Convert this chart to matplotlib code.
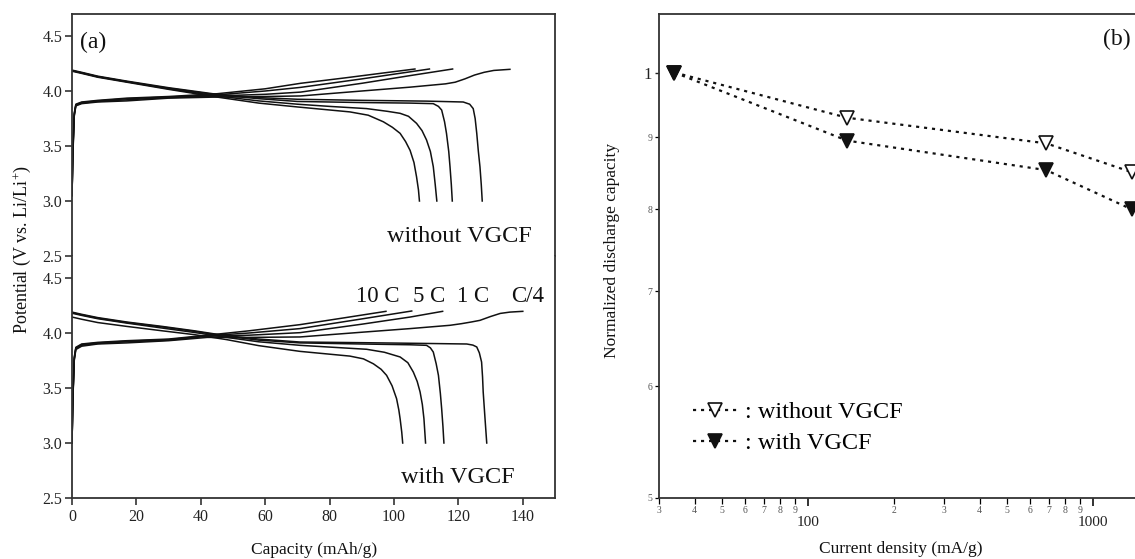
import matplotlib
matplotlib.use("Agg")
import matplotlib.pyplot as plt
from matplotlib.ticker import FixedLocator, FixedFormatter

plt.rcParams["font.family"] = ["Liberation Serif", "DejaVu Serif"]
plt.rcParams["mathtext.fontset"] = "custom"
plt.rcParams["mathtext.rm"] = "Liberation Serif"
plt.rcParams["mathtext.it"] = "Liberation Serif:italic"

# ---------------------------------------------------------------------------
# (a) charge / discharge profiles, (capacity mAh/g, potential V)
# ---------------------------------------------------------------------------
rate_labels = ["10 C", "5 C", "1 C", "C/4"]

# without VGCF -- charge
wo_chg_10C = [(0, 3.05), (0.3, 3.5), (0.7, 3.8), (1.2, 3.88), (3, 3.9), (8, 3.915),
              (17, 3.935), (30, 3.95), (45, 3.975), (60, 4.02), (71, 4.07),
              (85, 4.12), (97, 4.165), (106.5, 4.2)]
wo_chg_5C = [(0, 3.05), (0.3, 3.48), (0.7, 3.79), (1.2, 3.875), (3, 3.895), (8, 3.91),
             (17, 3.93), (30, 3.945), (45, 3.965), (60, 4.0), (71, 4.033),
             (90, 4.11), (111, 4.2)]
wo_chg_1C = [(0, 3.05), (0.3, 3.46), (0.7, 3.78), (1.2, 3.87), (3, 3.89), (8, 3.905),
             (17, 3.92), (30, 3.94), (45, 3.955), (60, 3.97), (71, 3.99),
             (90, 4.07), (105, 4.14), (118.2, 4.2)]
wo_chg_C4 = [(0, 3.05), (0.3, 3.44), (0.7, 3.77), (1.2, 3.865), (3, 3.885), (8, 3.9),
             (17, 3.91), (30, 3.935), (45, 3.945), (60, 3.95), (71, 3.955),
             (90, 4.0), (105, 4.035), (116, 4.065), (119, 4.08), (122, 4.11),
             (125, 4.145), (128, 4.17), (131, 4.187), (136, 4.197)]

# without VGCF -- discharge
wo_dis_10C = [(0, 4.18), (3, 4.16), (8, 4.125), (17, 4.08), (30, 4.015), (45, 3.945),
              (58, 3.89), (70, 3.855), (86.3, 3.81), (92, 3.78), (96.7, 3.72),
              (99.5, 3.67), (101.9, 3.615), (103.6, 3.54), (105, 3.46), (106.2, 3.35),
              (107, 3.22), (107.6, 3.1), (107.9, 3.0)]
wo_dis_5C = [(0, 4.185), (3, 4.165), (8, 4.13), (17, 4.085), (30, 4.02), (45, 3.955),
             (58, 3.91), (70, 3.88), (80, 3.86), (91.5, 3.84), (98, 3.815),
             (101.9, 3.797), (104.5, 3.77), (107, 3.706), (108.7, 3.64), (110.1, 3.555),
             (111.3, 3.45), (112.2, 3.312), (112.8, 3.15), (113.3, 3.0)]
wo_dis_1C = [(0, 4.185), (3, 4.165), (8, 4.13), (17, 4.085), (30, 4.025), (45, 3.965),
             (58, 3.93), (70, 3.905), (90, 3.895), (105, 3.89), (112.2, 3.885),
             (113.8, 3.86), (114.8, 3.827), (115.7, 3.72), (116.3, 3.615), (117, 3.45),
             (117.4, 3.31), (117.8, 3.15), (118.1, 3.0)]
wo_dis_C4 = [(0, 4.19), (3, 4.17), (8, 4.135), (17, 4.09), (30, 4.03), (45, 3.97),
             (58, 3.94), (70, 3.925), (90, 3.915), (110, 3.908), (121.5, 3.9),
             (123.5, 3.88), (124.6, 3.84), (125.2, 3.75), (125.7, 3.615), (126.2, 3.45),
             (126.7, 3.31), (127.1, 3.15), (127.4, 3.0)]

# with VGCF -- charge
w_chg_10C = [(0, 3.0), (0.3, 3.45), (0.7, 3.78), (1.2, 3.87), (3, 3.9), (8, 3.915),
             (17, 3.93), (30, 3.945), (42, 3.98), (55, 4.02), (70.8, 4.076),
             (85, 4.14), (97.5, 4.197)]
w_chg_5C = [(0, 3.0), (0.3, 3.44), (0.7, 3.77), (1.2, 3.865), (3, 3.895), (8, 3.91),
            (17, 3.925), (30, 3.94), (42, 3.975), (55, 4.0), (70.8, 4.04),
            (90, 4.128), (105.5, 4.2)]
w_chg_1C = [(0, 3.0), (0.3, 3.43), (0.7, 3.76), (1.2, 3.86), (3, 3.888), (8, 3.905),
            (17, 3.92), (30, 3.935), (42, 3.97), (55, 3.98), (70.8, 4.003),
            (90, 4.08), (105, 4.145), (115.1, 4.197)]
w_chg_C4 = [(0, 3.0), (0.3, 3.42), (0.7, 3.75), (1.2, 3.85), (3, 3.88), (8, 3.9),
            (17, 3.91), (30, 3.93), (42, 3.96), (55, 3.96), (70.8, 3.964),
            (90, 4.007), (105, 4.04), (117.4, 4.07), (121, 4.085), (124, 4.1),
            (126.7, 4.115), (130, 4.15), (133, 4.178), (136, 4.19), (140, 4.197)]

# with VGCF -- discharge
w_dis_10C = [(0, 4.145), (3, 4.125), (8, 4.095), (17, 4.06), (28, 4.02), (38, 3.985),
             (48, 3.94), (58, 3.885), (70.8, 3.833), (86.3, 3.79), (90.5, 3.765),
             (93.6, 3.72), (96, 3.67), (97.7, 3.615), (99.4, 3.52), (100.8, 3.403),
             (101.5, 3.3), (101.9, 3.22), (102.4, 3.1), (102.7, 3.0)]
w_dis_5C = [(0, 4.18), (3, 4.16), (8, 4.13), (17, 4.09), (28, 4.045), (38, 4.005),
            (48, 3.96), (58, 3.92), (70.8, 3.888), (80, 3.872), (91.5, 3.852),
            (97, 3.825), (101.9, 3.782), (104.3, 3.73), (106, 3.645), (107.2, 3.56),
            (108.1, 3.464), (108.8, 3.35), (109.3, 3.22), (109.8, 3.0)]
w_dis_1C = [(0, 4.185), (3, 4.165), (8, 4.135), (17, 4.095), (28, 4.055), (38, 4.015),
            (48, 3.97), (58, 3.935), (70.8, 3.91), (90, 3.9), (105, 3.893),
            (110.1, 3.888), (111.3, 3.865), (112.2, 3.827), (113.1, 3.72),
            (113.8, 3.615), (114.4, 3.45), (114.8, 3.312), (115.2, 3.15), (115.5, 3.0)]
w_dis_C4 = [(0, 4.19), (3, 4.17), (8, 4.14), (17, 4.1), (28, 4.06), (38, 4.02),
            (48, 3.975), (58, 3.945), (70.8, 3.918), (90, 3.912), (110, 3.905),
            (122.6, 3.9), (124.5, 3.89), (125.7, 3.873), (126.5, 3.82), (127.2, 3.736),
            (127.5, 3.6), (127.7, 3.464), (128.2, 3.25), (128.8, 3.0)]

# ---------------------------------------------------------------------------
# (b) rate capability
# ---------------------------------------------------------------------------
current_density = [34, 137, 685, 1370]          # mA/g  (C/4, 1C, 5C, 10C)
norm_without = [1.0, 0.929, 0.891, 0.850]
norm_with = [1.0, 0.895, 0.853, 0.800]

x_minor_ticks = [30, 40, 50, 60, 70, 80, 90, 200, 300, 400, 500, 600, 700, 800, 900]
x_minor_labels = ["3", "4", "5", "6", "7", "8", "9", "2", "3", "4", "5", "6", "7", "8", "9"]
y_minor_ticks = [0.5, 0.6, 0.7, 0.8, 0.9]
y_minor_labels = ["5", "6", "7", "8", "9"]

# ---------------------------------------------------------------------------
W, H = 1135, 559
fig = plt.figure(figsize=(W / 100, H / 100), dpi=100)

def fx(px):
    return px / W

def fy(py):
    return 1 - py / H

ink = "#111111"
spine_col = "#333333"

left, right_px = 72, 555
ax_top = fig.add_axes([fx(left), fy(256), fx(right_px - left), fy(14) - fy(256)])
ax_bot = fig.add_axes([fx(left), fy(498), fx(right_px - left), fy(256) - fy(498)])

top_curves = [wo_chg_10C, wo_chg_5C, wo_chg_1C, wo_chg_C4,
              wo_dis_10C, wo_dis_5C, wo_dis_1C, wo_dis_C4]
bot_curves = [w_chg_10C, w_chg_5C, w_chg_1C, w_chg_C4,
              w_dis_10C, w_dis_5C, w_dis_1C, w_dis_C4]

for ax, curves in ((ax_top, top_curves), (ax_bot, bot_curves)):
    for pts in curves:
        xs, ys = zip(*pts)
        ax.plot(xs, ys, color=ink, lw=1.1, solid_joinstyle="round")
    ax.set_xlim(0, 150)
    ax.set_ylim(2.5, 4.7)
    ax.set_yticks([2.5, 3.0, 3.5, 4.0, 4.5])
    ax.set_yticklabels(["2.5", "3.0", "3.5", "4.0", "4.5"])
    ax.tick_params(axis="y", direction="out", length=5, width=1.1,
                   labelsize=11.5, colors="#222222", pad=2)
    for s in ax.spines.values():
        s.set_color(spine_col)
        s.set_linewidth(1.3)

ax_top.spines["bottom"].set_visible(False)
ax_top.set_xticks([])
ax_bot.spines["top"].set_visible(False)
ax_bot.set_xticks(range(0, 141, 20))
ax_bot.tick_params(axis="x", direction="out", length=5, width=1.1,
                   labelsize=11.5, colors="#222222", pad=3)

ax_top.text(120.2, 2.63, "without VGCF", ha="center", va="baseline",
            fontsize=17.5, color=ink)
ax_bot.text(119.9, 2.636, "with VGCF", ha="center", va="baseline",
            fontsize=17.5, color=ink)
for lbl, xc in zip(rate_labels, [95.0, 110.9, 124.4, 141.6]):
    ax_bot.text(xc, 4.279, lbl, ha="center", va="baseline", fontsize=16.5, color=ink)

fig.text(fx(80), fy(42), "(a)", ha="left", va="center", fontsize=17, color=ink)
fig.text(fx(22), fy(250), "Potential (V vs. Li/Li$^{+}$)", rotation=90,
         ha="center", va="center", fontsize=13, color=ink)
fig.text(fx(314), fy(550), "Capacity (mAh/g)", ha="center", va="center",
         fontsize=12.5, color=ink)

# ---------------------------------------------------------------------------
axr = fig.add_axes([fx(659), fy(498), 0.45, fy(14) - fy(498)])
axr.set_xscale("log")
axr.set_yscale("log")

dots = (0, (1.4, 2.2))
axr.plot(current_density, norm_without, linestyle=dots, lw=1.6, color=ink,
         marker="v", markersize=9.5, markerfacecolor="white",
         markeredgecolor=ink, markeredgewidth=1.2, label=": without VGCF")
axr.plot(current_density, norm_with, linestyle=dots, lw=1.6, color=ink,
         marker="v", markersize=9.5, markerfacecolor=ink,
         markeredgecolor=ink, markeredgewidth=1.2, label=": with VGCF")

axr.set_xlim(30, 1858)
axr.set_ylim(0.5, 1.1)

axr.xaxis.set_major_locator(FixedLocator([100, 1000]))
axr.xaxis.set_major_formatter(FixedFormatter(["100", "1000"]))
axr.xaxis.set_minor_locator(FixedLocator(x_minor_ticks))
axr.xaxis.set_minor_formatter(FixedFormatter(x_minor_labels))
axr.tick_params(axis="x", which="major", direction="out", length=6, width=1.3,
                labelsize=11, colors="#222222", pad=7)
axr.tick_params(axis="x", which="minor", direction="out", length=4, width=0.9,
                labelsize=7, labelcolor="#555555", pad=2)

axr.yaxis.set_major_locator(FixedLocator([1.0]))
axr.yaxis.set_major_formatter(FixedFormatter(["1"]))
axr.yaxis.set_minor_locator(FixedLocator(y_minor_ticks))
axr.yaxis.set_minor_formatter(FixedFormatter(y_minor_labels))
axr.tick_params(axis="y", which="major", direction="out", length=3, width=1.0,
                labelsize=12, colors="#222222", pad=2)
axr.tick_params(axis="y", which="minor", direction="out", length=3, width=0.9,
                labelsize=7, labelcolor="#555555", pad=2)

for s in axr.spines.values():
    s.set_color(spine_col)
    s.set_linewidth(1.3)
axr.spines["right"].set_visible(False)

leg = axr.legend(loc="upper left", bbox_to_anchor=(fx(693), fy(401)),
                 bbox_transform=fig.transFigure, frameon=False, fontsize=17.5,
                 handlelength=1.8, handletextpad=0.35, labelspacing=0.38,
                 borderpad=0, borderaxespad=0, numpoints=1)

fig.text(fx(1103), fy(39), "(b)", ha="left", va="center", fontsize=17, color=ink)
fig.text(fx(612), fy(250), "Normalized discharge capacity", rotation=90,
         ha="center", va="center", fontsize=12.5, color=ink)
fig.text(fx(901), fy(549), "Current density (mA/g)", ha="center", va="center",
         fontsize=12.5, color=ink)

fig.savefig("out.png", dpi=100)
